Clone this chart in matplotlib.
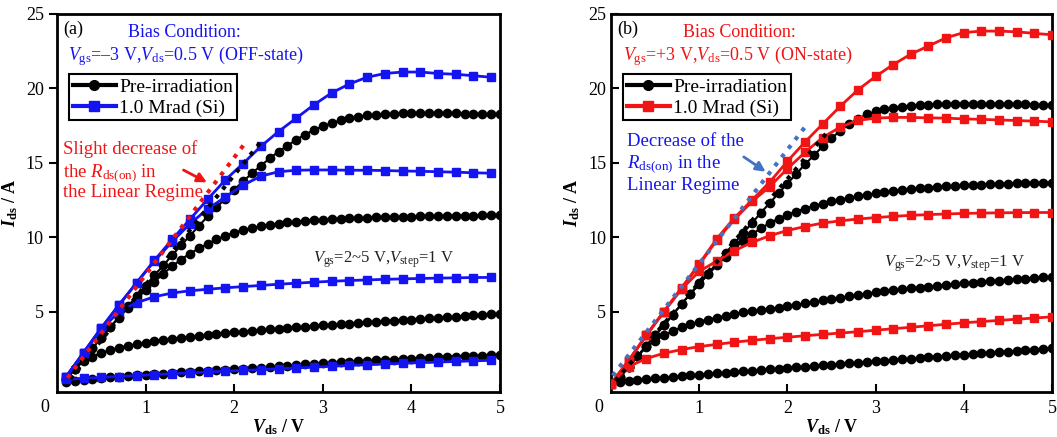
import matplotlib
matplotlib.use('Agg')
import matplotlib.pyplot as plt
from matplotlib.lines import Line2D
import numpy as np

plt.rcParams['font.family'] = 'Liberation Serif'
plt.rcParams['mathtext.fontset'] = 'custom'
plt.rcParams['mathtext.rm'] = 'Liberation Serif'
plt.rcParams['mathtext.it'] = 'Liberation Serif:italic'
plt.rcParams['mathtext.bf'] = 'Liberation Serif:bold'
plt.rcParams['mathtext.bfit'] = 'Liberation Serif:italic:bold'

# ---------------- data ----------------
# pre-irradiation sweeps: Vds = 0.1 ... 5.0 V, 0.1 V step
vds_pre = np.linspace(0.1, 5.0, 50)

# (a) OFF-state bias, pre-irradiation, Vgs = 2, 3, 4, 5 V
a_pre_vgs2 = [0.30, 0.36, 0.42, 0.48, 0.53, 0.58, 0.62, 0.67, 0.71, 0.75,
              0.79, 0.83, 0.87, 0.91, 0.95, 0.99, 1.02, 1.06, 1.09, 1.12,
              1.16, 1.20, 1.24, 1.28, 1.32, 1.37, 1.41, 1.45, 1.50, 1.54,
              1.57, 1.60, 1.63, 1.66, 1.69, 1.72, 1.75, 1.78, 1.81, 1.84,
              1.87, 1.90, 1.92, 1.95, 1.97, 2.00, 2.02, 2.05, 2.07, 2.10]
a_pre_vgs3 = [0.45, 1.15, 1.65, 1.98, 2.22, 2.42, 2.58, 2.71, 2.82, 2.92,
              3.01, 3.09, 3.17, 3.24, 3.31, 3.37, 3.43, 3.49, 3.55, 3.60,
              3.65, 3.70, 3.75, 3.80, 3.85, 3.90, 3.94, 3.99, 4.03, 4.08,
              4.12, 4.16, 4.20, 4.24, 4.28, 4.32, 4.36, 4.40, 4.44, 4.47,
              4.51, 4.55, 4.58, 4.62, 4.66, 4.70, 4.74, 4.78, 4.82, 4.86]
a_pre_vgs4 = [0.45, 1.15, 1.85, 2.55, 3.25, 3.95, 4.60, 5.25, 5.85, 6.45,
              7.00, 7.55, 8.05, 8.50, 8.90, 9.25, 9.55, 9.85, 10.10, 10.30,
              10.48, 10.62, 10.74, 10.84, 10.92, 10.99, 11.05, 11.10, 11.14, 11.18,
              11.21, 11.24, 11.27, 11.29, 11.31, 11.33, 11.35, 11.36, 11.38, 11.39,
              11.40, 11.41, 11.42, 11.43, 11.44, 11.45, 11.45, 11.46, 11.46, 11.47]
a_pre_vgs5 = [0.45, 1.15, 1.85, 2.55, 3.25, 3.95, 4.65, 5.35, 6.05, 6.75,
              7.45, 8.10, 8.80, 9.45, 10.10, 10.75, 11.40, 12.00, 12.60, 13.20,
              13.75, 14.30, 14.80, 15.30, 15.75, 16.15, 16.55, 16.90, 17.20, 17.45,
              17.67, 17.85, 18.00, 18.10, 18.18, 18.24, 18.28, 18.30, 18.32, 18.33,
              18.33, 18.33, 18.33, 18.32, 18.32, 18.31, 18.30, 18.29, 18.28, 18.27]

# (a) after 1.0 Mrad (Si): Vds = 0.1 ... 4.9 V, 0.2 V step
vds_a_irr = np.linspace(0.1, 4.9, 25)
a_irr_vgs2 = [0.45, 0.52, 0.58, 0.64, 0.70, 0.77, 0.83, 0.88, 0.94, 1.00,
              1.05, 1.10, 1.16, 1.21, 1.27, 1.33, 1.38, 1.43, 1.48, 1.53,
              1.57, 1.61, 1.65, 1.69, 1.73]
a_irr_vgs3 = [0.60, 2.20, 3.80, 5.00, 5.60, 6.00, 6.25, 6.40, 6.50, 6.60,
              6.68, 6.76, 6.84, 6.91, 6.98, 7.04, 7.09, 7.13, 7.17, 7.20,
              7.23, 7.25, 7.27, 7.29, 7.30]
a_irr_vgs4 = [0.60, 2.25, 3.90, 5.45, 6.95, 8.40, 9.70, 10.90, 11.90, 12.70,
              13.50, 14.10, 14.40, 14.50, 14.52, 14.52, 14.50, 14.50, 14.48, 14.45,
              14.43, 14.40, 14.37, 14.33, 14.30]
a_irr_vgs5 = [0.60, 2.25, 3.90, 5.45, 6.95, 8.45, 9.85, 11.20, 12.55, 13.85,
              14.95, 16.10, 17.10, 18.00, 18.90, 19.70, 20.30, 20.75, 21.00, 21.10,
              21.10, 21.00, 20.95, 20.85, 20.75]

# (b) ON-state bias, pre-irradiation, Vgs = 2, 3, 4, 5 V
b_pre_vgs2 = [0.30, 0.36, 0.41, 0.46, 0.51, 0.56, 0.61, 0.66, 0.71, 0.76,
              0.80, 0.85, 0.90, 0.94, 0.99, 1.03, 1.08, 1.12, 1.17, 1.21,
              1.25, 1.30, 1.34, 1.38, 1.43, 1.47, 1.52, 1.56, 1.61, 1.65,
              1.70, 1.74, 1.79, 1.83, 1.88, 1.92, 1.97, 2.01, 2.06, 2.10,
              2.15, 2.19, 2.24, 2.28, 2.32, 2.37, 2.41, 2.45, 2.50, 2.54]
b_pre_vgs3 = [0.55, 1.30, 2.00, 2.60, 3.05, 3.40, 3.70, 3.95, 4.15, 4.33,
              4.47, 4.60, 4.72, 4.84, 4.95, 5.03, 5.11, 5.19, 5.27, 5.35,
              5.45, 5.55, 5.65, 5.75, 5.85, 5.94, 6.03, 6.12, 6.21, 6.30,
              6.37, 6.43, 6.50, 6.56, 6.62, 6.68, 6.74, 6.79, 6.85, 6.90,
              6.95, 6.99, 7.04, 7.08, 7.13, 7.17, 7.22, 7.26, 7.31, 7.35]
b_pre_vgs4 = [0.60, 1.30, 2.00, 2.70, 3.40, 4.10, 4.80, 5.50, 6.20, 6.85,
              7.50, 8.10, 8.70, 9.25, 9.75, 10.20, 10.60, 10.95, 11.25, 11.50,
              11.72, 11.92, 12.10, 12.26, 12.40, 12.53, 12.65, 12.76, 12.86, 12.95,
              13.03, 13.10, 13.17, 13.23, 13.28, 13.33, 13.37, 13.41, 13.45, 13.48,
              13.51, 13.54, 13.56, 13.58, 13.60, 13.62, 13.63, 13.64, 13.65, 13.66]
b_pre_vgs5 = [0.60, 1.30, 2.00, 2.70, 3.40, 4.10, 4.80, 5.50, 6.20, 6.90,
              7.55, 8.25, 8.95, 9.60, 10.30, 10.95, 11.65, 12.30, 12.95, 13.60,
              14.25, 14.90, 15.50, 16.10, 16.65, 17.15, 17.60, 17.95, 18.25, 18.45,
              18.60, 18.70, 18.78, 18.84, 18.88, 18.91, 18.93, 18.95, 18.96, 18.97,
              18.97, 18.97, 18.96, 18.95, 18.94, 18.93, 18.92, 18.90, 18.88, 18.86]

# (b) after 1.0 Mrad (Si): Vds = 0.0 ... 5.0 V, 0.2 V step
vds_b_irr = np.linspace(0.0, 5.0, 26)
b_irr_vgs2 = [0.15, 1.30, 1.85, 2.20, 2.45, 2.65, 2.80, 2.95, 3.07, 3.18,
              3.28, 3.38, 3.47, 3.56, 3.65, 3.75, 3.85, 3.95, 4.05, 4.15,
              4.25, 4.33, 4.41, 4.49, 4.57, 4.65]
b_irr_vgs3 = [0.15, 1.70, 3.40, 5.00, 6.50, 7.70, 8.40, 9.10, 9.65, 10.10,
              10.45, 10.72, 10.95, 11.10, 11.22, 11.32, 11.40, 11.47, 11.52, 11.56,
              11.60, 11.62, 11.64, 11.65, 11.66, 11.66]
b_irr_vgs4 = [0.15, 1.70, 3.40, 5.00, 6.55, 8.15, 9.80, 11.20, 12.40, 13.40,
              14.60, 15.70, 16.70, 17.40, 17.85, 18.00, 18.05, 18.05, 18.02, 18.00,
              17.95, 17.92, 17.88, 17.84, 17.80, 17.75]
b_irr_vgs5 = [0.15, 1.70, 3.40, 5.00, 6.60, 8.20, 9.90, 11.30, 12.50, 13.70,
              15.10, 16.40, 17.60, 18.80, 19.90, 20.80, 21.60, 22.30, 22.85, 23.40,
              23.75, 23.85, 23.85, 23.80, 23.70, 23.60]

# linear-regime fit lines (dotted), end points
a_fit_pre_x, a_fit_pre_y = [0.15, 2.30], [0.50, 16.40]
a_fit_irr_x, a_fit_irr_y = [0.12, 2.12], [0.55, 16.30]
b_fit_pre_x, b_fit_pre_y = [0.05, 2.46], [0.35, 17.10]
b_fit_irr_x, b_fit_irr_y = [0.02, 2.20], [0.70, 17.40]

x_ticks = [1, 2, 3, 4, 5]
y_ticks = [5, 10, 15, 20, 25]

BLUE = '#1414f0'
RED = '#f01414'
FIT_BLUE = '#4472c4'


def draw_panel(ax, pre_curves, irr_x, irr_curves, irr_color,
               fit_pre, fit_irr, fit_irr_color, y_tick_dir):
    for ids in pre_curves:
        ax.plot(vds_pre, ids, '-o', color='k', ms=6, lw=1.5, zorder=3)
    for ids in irr_curves:
        ax.plot(irr_x, ids, '-s', color=irr_color, ms=5.5, lw=2, zorder=4)
    ax.plot(fit_pre[0], fit_pre[1], ':', color='k', lw=3, zorder=5)
    ax.plot(fit_irr[0], fit_irr[1], ':', color=fit_irr_color, lw=3, zorder=5)

    ax.set_xlim(0, 5)
    ax.set_ylim(-0.4, 25)
    ax.set_xticks(x_ticks)
    ax.set_yticks(y_ticks)
    ax.tick_params(axis='x', direction='in', length=6, width=1.5, labelsize=13, pad=6)
    ax.tick_params(axis='y', direction=y_tick_dir, length=6, width=1.5, labelsize=13)
    for s in ax.spines.values():
        s.set_linewidth(2)
    # shared origin label in the corner
    ax.text(-0.028, -0.042, '0', transform=ax.transAxes, ha='center',
            va='center', fontsize=13)
    ax.set_xlabel(r'$\mathbfit{V}_{\mathbf{ds}}$ / V', fontsize=13,
                  fontweight='bold')
    ax.xaxis.set_label_coords(0.5, -0.068)
    ax.set_ylabel(r'$\mathbfit{I}_{\mathbf{ds}}$ / A', fontsize=13,
                  fontweight='bold', labelpad=4)

    handles = [Line2D([], [], color='k', marker='o', ms=7, lw=3),
               Line2D([], [], color=irr_color, marker='s', ms=7, lw=3)]
    leg = ax.legend(handles, ['Pre-irradiation', '1.0 Mrad (Si)'],
                    loc='upper left', bbox_to_anchor=(0.027, 0.84),
                    borderaxespad=0, fontsize=14, fancybox=False,
                    edgecolor='k', framealpha=1, handlelength=2.2,
                    handletextpad=0.2, borderpad=0.2, labelspacing=0.15)
    leg.get_frame().set_linewidth(1.5)


fig = plt.figure(figsize=(10.57, 4.37), dpi=100)
ax1 = fig.add_axes([0.0539, 0.103, 0.4192, 0.865])
ax2 = fig.add_axes([0.578, 0.103, 0.4172, 0.865])

draw_panel(ax1, [a_pre_vgs2, a_pre_vgs3, a_pre_vgs4, a_pre_vgs5],
           vds_a_irr, [a_irr_vgs2, a_irr_vgs3, a_irr_vgs4, a_irr_vgs5], BLUE,
           (a_fit_pre_x, a_fit_pre_y), (a_fit_irr_x, a_fit_irr_y), RED, 'out')
draw_panel(ax2, [b_pre_vgs2, b_pre_vgs3, b_pre_vgs4, b_pre_vgs5],
           vds_b_irr, [b_irr_vgs2, b_irr_vgs3, b_irr_vgs4, b_irr_vgs5], RED,
           (b_fit_pre_x, b_fit_pre_y), (b_fit_irr_x, b_fit_irr_y), FIT_BLUE, 'in')

# panel (a) annotations
ax1.text(0.07, 23.95, '(a)', fontsize=13, ha='left', va='center')
ax1.text(1.44, 23.75, 'Bias Condition:', fontsize=13, color=BLUE, ha='center', va='center')
ax1.text(1.45, 22.2, r'$\mathit{V}_{\rm gs}$=–3 V,$\mathit{V}_{\rm ds}$=0.5 V (OFF-state)',
         fontsize=13, color=BLUE, ha='center', va='center')
ax1.text(0.07, 15.56, 'Slight decrease of', fontsize=13.5, color=RED, va='baseline')
ax1.text(0.07, 14.08, r'the $\mathit{R}_{\rm ds(on)}$ in', fontsize=13.5, color=RED, va='baseline')
ax1.text(0.07, 12.67, 'the Linear Regime', fontsize=13.5, color=RED, va='baseline')
ax1.annotate('', xy=(1.72, 13.6), xytext=(1.40, 14.6),
             arrowprops=dict(arrowstyle='-|>', color=RED, lw=2, mutation_scale=14))
ax1.text(3.69, 8.3, r'$\mathit{V}_{\rm gs}$=2~5 V,$\mathit{V}_{\rm step}$=1 V',
         fontsize=12, color='#222222', ha='center', va='baseline')

# panel (b) annotations
ax2.text(0.07, 23.95, '(b)', fontsize=13, ha='left', va='center')
ax2.text(1.46, 23.75, 'Bias Condition:', fontsize=13, color=RED, ha='center', va='center')
ax2.text(1.44, 22.2, r'$\mathit{V}_{\rm gs}$=+3 V,$\mathit{V}_{\rm ds}$=0.5 V (ON-state)',
         fontsize=13, color=RED, ha='center', va='center')
ax2.text(0.18, 16.1, 'Decrease of the', fontsize=13.5, color=BLUE, va='baseline')
ax2.text(0.18, 14.68, r'$\mathit{R}_{\rm ds(on)}$ in the', fontsize=13.5, color=BLUE, va='baseline')
ax2.text(0.18, 13.2, 'Linear Regime', fontsize=13.5, color=BLUE, va='baseline')
ax2.annotate('', xy=(1.78, 14.3), xytext=(1.48, 15.5),
             arrowprops=dict(arrowstyle='-|>', color=FIT_BLUE, lw=2, mutation_scale=14))
ax2.text(3.9, 8.0, r'$\mathit{V}_{\rm gs}$=2~5 V,$\mathit{V}_{\rm step}$=1 V',
         fontsize=12, color='#222222', ha='center', va='baseline')

fig.savefig('out.png', dpi=100)
